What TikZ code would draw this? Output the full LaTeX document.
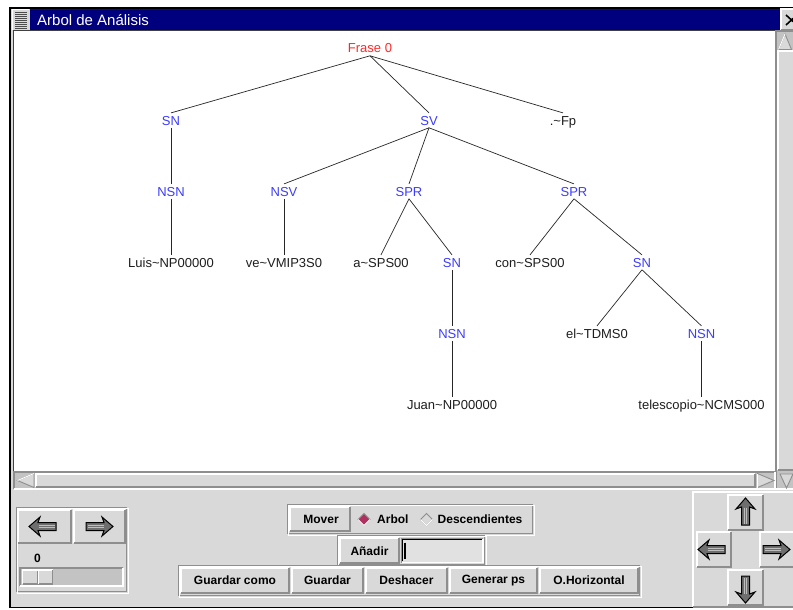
\documentclass[tikz,border=0pt]{standalone}
\usepackage{fontspec}
\setmainfont{Liberation Sans}

\definecolor{panel}{HTML}{D9D9D9}
\definecolor{trough}{HTML}{C3C3C3}
\definecolor{shadowc}{HTML}{8E8E8E}
\definecolor{navy}{HTML}{00007F}
\definecolor{catblue}{HTML}{3C3CFF}
\definecolor{rootred}{HTML}{FF2828}
\definecolor{leafc}{HTML}{1E1E1E}
\definecolor{radiosel}{HTML}{B0305F}
\definecolor{arrowfill}{HTML}{6E6E6E}

% raised widget: light top/left, dark bottom/right
\newcommand\uiraised[4]{%
  \fill[panel] (#1,#2) rectangle (#3,#4);
  \draw[white,line width=1.2pt] (#1,#4) -- (#1,#2) -- (#3,#2);
  \draw[shadowc,line width=1.2pt] (#1,#4) -- (#3,#4) -- (#3,#2);}
% sunken widget with a given fill
\newcommand\uisunken[5]{%
  \fill[#5] (#1,#2) rectangle (#3,#4);
  \draw[shadowc,line width=1.2pt] (#1,#4) -- (#1,#2) -- (#3,#2);
  \draw[white,line width=1.2pt] (#1,#4) -- (#3,#4) -- (#3,#2);}
% grooved frame around a group of widgets
\newcommand\uigroove[4]{%
  \draw[shadowc,line width=1pt] (#1,#2) rectangle ({#3-1.5},{#4-1.5});
  \draw[white,line width=1pt] ({#1+1.2},{#2+1.2}) rectangle (#3,#4);}

\tikzset{
  treetext/.style={font=\fontsize{13}{13}\selectfont, inner xsep=0pt,
    inner ysep=2.6pt, text height=9.3pt, text depth=0pt, anchor=base},
  cat/.style={treetext, text=catblue},
  root/.style={treetext, text=rootred},
  leaf/.style={treetext, text=leafc},
  branch/.style={draw=black!85, line width=0.7pt},
  btnlabel/.style={font=\fontsize{12}{12}\bfseries\selectfont, text=black, inner sep=0pt},
  thickarrow/.pic={
    \filldraw[fill=arrowfill, draw=black, line width=1pt, line join=miter]
      (0,0) -- (-11,-9.5) -- (-9,-4) -- (-27,-4) -- (-27,4)
      -- (-9,4) -- (-11,9.5) -- cycle;
    \draw[white!55!arrowfill, line width=0.7pt] (-9.5,-1.2) -- (-25.5,-1.2)
      (-9.5,1.2) -- (-25.5,1.2);}
}

\begin{document}
\begin{tikzpicture}[x=1pt,y=-1pt]
\useasboundingbox (0,0) rectangle (793,610);
\clip (0,0) rectangle (793,610);
\fill[white] (0,0) rectangle (793,610);

% window frame and body
\fill[panel] (10,8) rectangle (793,607);
\draw[black,line width=1.2pt] (10,608) -- (10,8) -- (793,8);
\draw[black,line width=1.2pt] (10,607.5) -- (793,607.5);

% title bar
\fill[navy] (30,9) rectangle (780,30);
\draw[blue!70!navy,line width=0.8pt] (30,9.5) -- (780,9.5);
\fill[panel] (12,9) rectangle (29,30);
\draw[white,line width=0.8pt] (12,30) -- (12,9) -- (29,9);
\foreach \yy in {12,14,...,28} \draw[black!70,line width=0.7pt] (15,\yy) -- (27,\yy);
\node[font=\fontsize{15}{15}\selectfont, text=white, anchor=base west, inner sep=0pt]
  (title) at (37,25.5) {Arbol de Análisis};
\uiraised{781}{9}{800}{30}
\draw[black,line width=1.6pt] (786,15) -- (797,25) (786,25) -- (797,15);

% canvas
\fill[white] (14,31) rectangle (775,471);
\draw[black!75,line width=1pt] (13.5,471) -- (13.5,31) -- (775,31);

% vertical scrollbar
\uisunken{776}{31}{800}{489}{trough}
\uiraised{778}{51}{800}{470}
\filldraw[fill=panel,draw=shadowc,line width=0.9pt] (785,34) -- (778.5,49.5) -- (791.5,49.5) -- cycle;
\draw[white,line width=0.9pt] (785,34) -- (778.5,49.5);
\filldraw[fill=panel,draw=shadowc,line width=0.9pt] (786.5,488) -- (780,474) -- (793,474) -- cycle;

% horizontal scrollbar
\uisunken{14}{472}{775}{489}{trough}
\uiraised{36}{474}{755}{487}
\filldraw[fill=panel,draw=shadowc,line width=0.9pt] (17.5,480.5) -- (34,473.5) -- (34,487.5) -- cycle;
\draw[white,line width=0.9pt] (17.5,480.5) -- (34,473.5);
\filldraw[fill=panel,draw=shadowc,line width=0.9pt] (774,480.5) -- (757.5,473.5) -- (757.5,487.5) -- cycle;
\draw[white,line width=0.9pt] (757.5,487.5) -- (757.5,473.5);

% ---------------- parse tree ----------------
\node[root] (fr)   at (370,53)  {Frase 0};
\node[cat]  (sn1)  at (171,125) {SN};
\node[cat]  (sv)   at (429,125) {SV};
\node[leaf] (fp)   at (563,125) {.\textasciitilde Fp};
\node[cat]  (nsn1) at (171,196) {NSN};
\node[cat]  (nsv)  at (284,196) {NSV};
\node[cat]  (spr1) at (409,196) {SPR};
\node[cat]  (spr2) at (574,196) {SPR};
\node[leaf] (luis) at (171,267) {Luis\textasciitilde NP00000};
\node[leaf] (ve)   at (284,267) {ve\textasciitilde VMIP3S0};
\node[leaf] (a)    at (381,267) {a\textasciitilde SPS00};
\node[cat]  (sn2)  at (452,267) {SN};
\node[leaf] (con)  at (530,267) {con\textasciitilde SPS00};
\node[cat]  (sn3)  at (642,267) {SN};
\node[cat]  (nsn2) at (452,338) {NSN};
\node[leaf] (el)   at (597,338) {el\textasciitilde TDMS0};
\node[cat]  (nsn3) at (701.5,338) {NSN};
\node[leaf] (juan) at (452,409) {Juan\textasciitilde NP00000};
\node[leaf] (tel)  at (701.5,409) {telescopio\textasciitilde NCMS000};

\draw[branch] (fr.south) -- (sn1.north);
\draw[branch] (fr.south) -- (sv.north);
\draw[branch] (fr.south) -- (fp.north);
\draw[branch] (sn1.south) -- (nsn1.north);
\draw[branch] (nsn1.south) -- (luis.north);
\draw[branch] (sv.south) -- (nsv.north);
\draw[branch] (sv.south) -- (spr1.north);
\draw[branch] (sv.south) -- (spr2.north);
\draw[branch] (nsv.south) -- (ve.north);
\draw[branch] (spr1.south) -- (a.north);
\draw[branch] (spr1.south) -- (sn2.north);
\draw[branch] (sn2.south) -- (nsn2.north);
\draw[branch] (nsn2.south) -- (juan.north);
\draw[branch] (spr2.south) -- (con.north);
\draw[branch] (spr2.south) -- (sn3.north);
\draw[branch] (sn3.south) -- (el.north);
\draw[branch] (sn3.south) -- (nsn3.north);
\draw[branch] (nsn3.south) -- (tel.north);

% ---------------- control panel ----------------
% left: step arrows, counter and slider
\uigroove{16}{507}{128}{593}
\uiraised{18}{510}{71}{543}
\uiraised{74}{510}{125}{543}
\pic[rotate=180] at (29,526.5) {thickarrow};
\pic at (113,526.5) {thickarrow};
\node[btnlabel] (count) at (37.5,558.5) {0};
\uisunken{20}{568}{123}{586}{trough}
\uiraised{22.5}{570}{52.5}{584}
\draw[shadowc,line width=1pt] (37,570.5) -- (37,583.5);
\draw[white,line width=1pt] (38,570.5) -- (38,583.5);

% move mode: button and radio choices
\uigroove{287}{504}{534}{535}
\uiraised{290}{507}{350}{531}
\node[btnlabel] (mover) at (321,519) {Mover};
\filldraw[fill=radiosel,draw=shadowc,line width=0.8pt] (364,513.5) -- (370,519.5) -- (364,525.5) -- (358,519.5) -- cycle;
\draw[white,line width=0.8pt] (358,519.5) -- (364,525.5) -- (370,519.5);
\node[btnlabel,anchor=west] (arbol) at (377,519) {Arbol};
\filldraw[fill=panel,draw=shadowc,line width=0.8pt] (426.5,513.5) -- (432.5,519.5) -- (426.5,525.5) -- (420.5,519.5) -- cycle;
\draw[white,line width=0.8pt] (420.5,519.5) -- (426.5,525.5) -- (432.5,519.5);
\node[btnlabel,anchor=west] (desc) at (437.5,519) {Descendientes};

% insert row: button and entry field
\uigroove{337}{535}{486}{566}
\uiraised{340}{538}{399}{563}
\node[btnlabel] (anadir) at (369.5,551) {Añadir};
\uisunken{401.5}{538.5}{483}{562.5}{panel!80!white}
\draw[black,line width=1pt] (402.8,561.2) -- (402.8,539.8) -- (481.8,539.8);
\draw[black,line width=1.4pt] (405,542.5) -- (405,559);

% file / edit commands
\uigroove{178}{565}{641}{597}
\uiraised{181}{568}{289}{593}
\uiraised{292}{568}{363}{593}
\uiraised{366}{568}{447}{593}
\uiraised{450}{568}{537}{593}
\uiraised{540}{568}{638}{593}
\node[btnlabel] (gcomo)  at (235,580.5) {Guardar como};
\node[btnlabel] (guard)  at (327.5,580.5) {Guardar};
\node[btnlabel] (desh)   at (406.5,580.5) {Deshacer};
\node[btnlabel] (genps)  at (493.5,580.5) {Generar ps};
\node[btnlabel] (ohoriz) at (589,580.5) {O.Horizontal};

% right: scroll pad
\uiraised{693}{492}{800}{607}
\uiraised{728}{495}{763}{530}
\uiraised{697}{532}{731}{567}
\uiraised{760}{532}{800}{567}
\uiraised{728}{570}{763}{605}
\pic[rotate=90] at (745.5,498) {thickarrow};
\pic[rotate=180] at (698,549.5) {thickarrow};
\pic at (790,549.5) {thickarrow};
\pic[rotate=-90] at (745.5,603) {thickarrow};
\end{tikzpicture}
\end{document}
